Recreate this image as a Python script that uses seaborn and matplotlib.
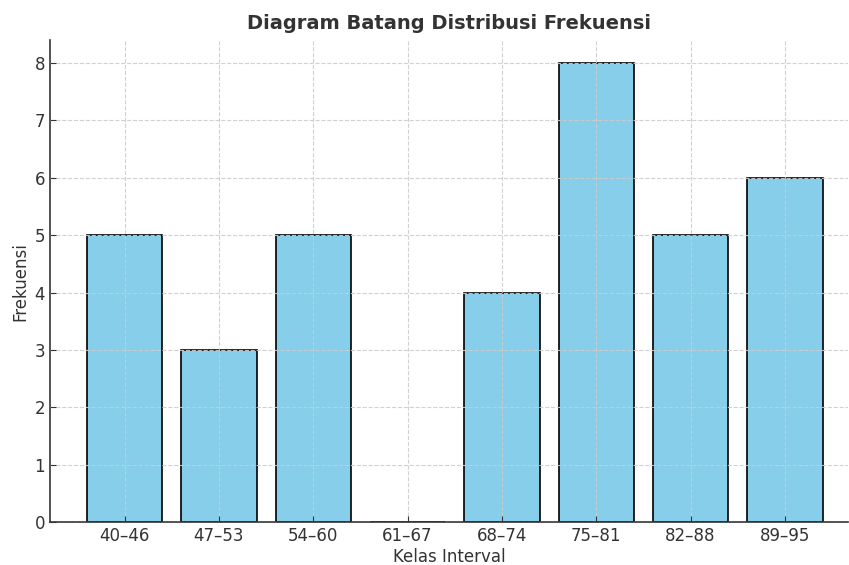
import matplotlib
matplotlib.use("Agg")
import matplotlib.pyplot as plt
import seaborn as sb
import pandas as pd

# class intervals and their frequencies
kelas = ["40–46", "47–53", "54–60", "61–67", "68–74", "75–81", "82–88", "89–95"]
frekuensi = [5, 3, 5, 0, 4, 8, 5, 6]

df = pd.DataFrame({"Kelas Interval": kelas, "Frekuensi": frekuensi})

sb.set_style("white")
plt.rcParams['font.family'] = ['DejaVu Sans']
plt.rcParams['text.color'] = '#333333'
plt.rcParams['axes.labelcolor'] = '#333333'
plt.rcParams['xtick.color'] = '#333333'
plt.rcParams['ytick.color'] = '#333333'

fig = plt.figure(figsize=(8.49, 5.65), dpi=100)
ax = fig.add_axes([0.059, 0.076, 0.94, 0.853])

sb.barplot(data=df, x="Kelas Interval", y="Frekuensi", color="skyblue",
           edgecolor="black", linewidth=1.2, width=0.8, saturation=1, ax=ax)

ax.set_xlim(-0.79, 7.67)
ax.set_ylim(0, 8.4)
ax.set_axisbelow(False)
ax.grid(True, linestyle="--", color="#cccccc", linewidth=0.8, alpha=0.9)
sb.despine(ax=ax)
for s in ["left", "bottom"]:
    ax.spines[s].set_color("#333333")
    ax.spines[s].set_linewidth(1.2)
ax.tick_params(direction="in", length=4, labelsize=12, bottom=True, left=True)
ax.set_xlabel("Kelas Interval", fontsize=12, labelpad=2)
ax.set_ylabel("Frekuensi", fontsize=12)
ax.set_title("Diagram Batang Distribusi Frekuensi", fontsize=14, fontweight="bold", pad=8)

fig.savefig("out.png", dpi=100)
